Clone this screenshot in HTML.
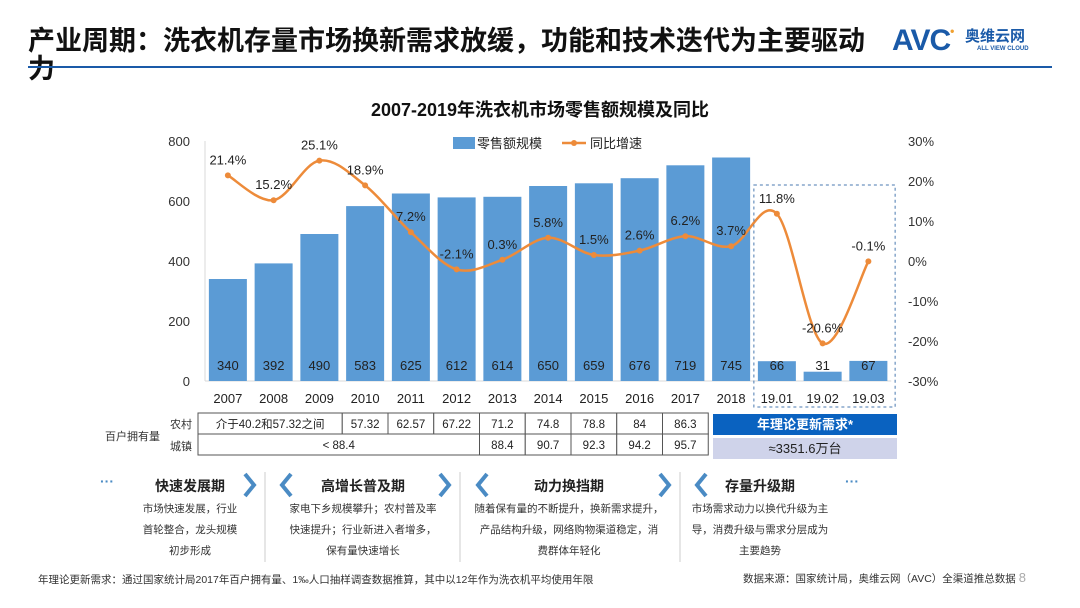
<!DOCTYPE html>
<html><head><meta charset="utf-8">
<style>
body{margin:0;width:1080px;height:608px;background:#fff;overflow:hidden;font-family:"Liberation Sans","Noto Sans CJK SC",sans-serif;position:relative}
.a{position:absolute}
.t{font-size:13px;color:#333}
.ph{position:absolute;text-align:center;font-size:10.5px;color:#333;line-height:21px}
.ph b{display:block;font-size:14px;color:#222;margin-bottom:2px}
</style></head><body>
<div class="a" style="left:28px;top:27px;font-size:27px;font-weight:bold;line-height:28px;color:#111;width:845px">产业周期：洗衣机存量市场换新需求放缓，功能和技术迭代为主要驱动力</div>
<div class="a" style="left:892px;top:24px;font-size:30px;font-weight:bold;color:#1a5aa8;letter-spacing:-1px">AVC<span style="color:#f0a030;font-size:12px;vertical-align:top">•</span></div>
<div class="a" style="left:965px;top:25px;font-size:15px;font-weight:bold;color:#1a5aa8">奥维云网</div>
<div class="a" style="left:977px;top:46px;font-size:6px;font-weight:bold;color:#1a5aa8">ALL VIEW CLOUD</div>
<div class="a" style="left:28px;top:66px;width:1024px;height:2px;background:#1a5aa8"></div>
<div class="a" style="left:0;width:1080px;top:96px;text-align:center;font-size:18px;font-weight:bold;color:#111">2007-2019年洗衣机市场零售额规模及同比</div>

<svg class="a" style="left:0;top:0" width="1080" height="608" id="chart"></svg>

<div class="a t" style="left:105px;top:428px;font-size:11px">百户拥有量</div>
<div class="a t" style="left:170px;top:416px;font-size:11px">农村</div>
<div class="a t" style="left:170px;top:438px;font-size:11px">城镇</div>
<div class="a" style="left:713px;top:414px;width:184px;height:21px;background:#0a62c0;color:#fff;font-size:13px;font-weight:bold;text-align:center;line-height:21px">年理论更新需求*</div>
<div class="a" style="left:713px;top:438px;width:184px;height:21px;background:#cfd3ea;color:#222;font-size:13px;text-align:center;line-height:21px">≈3351.6万台</div>

<div class="a" style="left:100px;top:473px;color:#4a8bc4;font-size:14px;font-weight:bold">···</div>
<div class="a" style="left:845px;top:473px;color:#4a8bc4;font-size:14px;font-weight:bold">···</div>
<div class="ph" style="left:130px;top:476px;width:120px"><b>快速发展期</b>市场快速发展，行业<br>首轮整合，龙头规模<br>初步形成</div>
<div class="ph" style="left:268px;top:476px;width:190px"><b>高增长普及期</b>家电下乡规模攀升；农村普及率<br>快速提升；行业新进入者增多，<br>保有量快速增长</div>
<div class="ph" style="left:460px;top:476px;width:218px"><b>动力换挡期</b>随着保有量的不断提升，换新需求提升，<br>产品结构升级，网络购物渠道稳定，消<br>费群体年轻化</div>
<div class="ph" style="left:680px;top:476px;width:160px"><b>存量升级期</b>市场需求动力以换代升级为主<br>导，消费升级与需求分层成为<br>主要趋势</div>
<div class="a" style="left:38px;top:572px;font-size:10.5px;color:#333">年理论更新需求：通过国家统计局2017年百户拥有量、1‰人口抽样调查数据推算，其中以12年作为洗衣机平均使用年限</div>
<div class="a" style="left:743px;top:570px;font-size:10.5px;color:#333">数据来源：国家统计局，奥维云网（AVC）全渠道推总数据 <span style="color:#aaa;font-size:13px">8</span></div>

<script>
const categories=["2007","2008","2009","2010","2011","2012","2013","2014","2015","2016","2017","2018","19.01","19.02","19.03"];
const salesValues=[340,392,490,583,625,612,614,650,659,676,719,745,66,31,67];
const growthValues=[21.4,15.2,25.1,18.9,7.2,-2.1,0.3,5.8,1.5,2.6,6.2,3.7,11.8,-20.6,-0.1];
const leftTicks=[0,200,400,600,800];
const rightTicks=[30,20,10,0,-10,-20,-30];
const ruralCells=[["介于40.2和57.32之间",4],["57.32",1],["62.57",1],["67.22",1],["71.2",1],["74.8",1],["78.8",1],["84",1],["86.3",1]];
const urbanCells=[["< 88.4",7],["88.4",1],["90.7",1],["92.3",1],["94.2",1],["95.7",1]];

const svg=document.getElementById('chart');const NS='http://www.w3.org/2000/svg';
function mk(tag,attrs,name,text){const e=document.createElementNS(NS,tag);for(const k in attrs)e.setAttribute(k,attrs[k]);


if(text!==undefined)e.textContent=text;svg.appendChild(e);return e;}
const x0=205,step=45.75;
const xc=i=>x0+step*(i+0.5);
const yL=v=>381-v*0.3;
const yR=v=>261-v*4;
const font='"Liberation Sans","Noto Sans CJK SC",sans-serif';
mk('line',{x1:x0,y1:141,x2:x0,y2:381,stroke:'#d9d9d9'},'y-axis-line');
mk('line',{x1:x0,y1:381,x2:x0+step*15,y2:381,stroke:'#d9d9d9'},'x-axis-line');
leftTicks.forEach(v=>mk('text',{x:190,y:yL(v)+5,'text-anchor':'end','font-size':13,fill:'#333','font-family':font},'left-tick-label',String(v)));
rightTicks.forEach(v=>mk('text',{x:908,y:yR(v)+5,'font-size':13,fill:'#333','font-family':font},'right-tick-label',v+'%'));
categories.forEach((c,i)=>{
 mk('rect',{x:xc(i)-19,y:yL(salesValues[i]),width:38,height:yL(0)-yL(salesValues[i]),fill:'#5b9bd5'},'bar-'+c);
 mk('text',{x:xc(i),y:370,'text-anchor':'middle','font-size':13,fill:'#222','font-family':font},'bar-value-label',String(salesValues[i]));
 mk('text',{x:xc(i),y:403,'text-anchor':'middle','font-size':13,fill:'#222','font-family':font},'x-tick-label',c);
});
const pts=growthValues.map((v,i)=>[xc(i),yR(v)]);
let d='M'+pts[0][0]+','+pts[0][1];
for(let i=0;i<pts.length-1;i++){const p0=pts[Math.max(i-1,0)],p1=pts[i],p2=pts[i+1],p3=pts[Math.min(i+2,pts.length-1)];
 d+=` C${p1[0]+(p2[0]-p0[0])/6},${p1[1]+(p2[1]-p0[1])/6} ${p2[0]-(p3[0]-p1[0])/6},${p2[1]-(p3[1]-p1[1])/6} ${p2[0]},${p2[1]}`;}
mk('path',{d:d,fill:'none',stroke:'#ed8b3a','stroke-width':2.5},'growth-line');
pts.forEach((p,i)=>{mk('circle',{cx:p[0],cy:p[1],r:3,fill:'#ed8b3a'},'growth-point');
 mk('text',{x:p[0],y:p[1]-11,'text-anchor':'middle','font-size':13,fill:'#222','font-family':font},'growth-label',growthValues[i]+'%');});
mk('rect',{x:xc(12)-23,y:185,width:step*3+4,height:222,fill:'none',stroke:'#4a7ab0','stroke-dasharray':'3,3'},'2019-highlight-box');
mk('rect',{x:453,y:137,width:22,height:12,fill:'#5b9bd5'},'legend-bar-swatch');
mk('text',{x:477,y:148,'font-size':13,fill:'#222','font-family':font},'legend-bar-label','零售额规模');
mk('line',{x1:562,y1:143,x2:586,y2:143,stroke:'#ed8b3a','stroke-width':2.5},'legend-line-swatch');
mk('circle',{cx:574,cy:143,r:3,fill:'#ed8b3a'},'legend-line-dot');
mk('text',{x:590,y:148,'font-size':13,fill:'#222','font-family':font},'legend-line-label','同比增速');
function row(cells,y,h,name){let cx=198;cells.forEach((c,k)=>{const w=c[1]===4?(xc(3)-step/2-198):c[1]===7?(xc(6)-step/2-198):step;
 mk('rect',{x:cx,y:y,width:w,height:h,fill:'#fff',stroke:'#555','stroke-width':1},name+'-cell');
 mk('text',{x:cx+w/2,y:y+15,'text-anchor':'middle','font-size':11.5,fill:'#222','font-family':font},name+'-value',c[0]);cx+=w;});}
row(ruralCells,413,21,'rural');row(urbanCells,434,21,'urban');
[265,460,680].forEach(x=>mk('line',{x1:x,y1:472,x2:x,y2:562,stroke:'#ccc'},'phase-divider'));
[[245,'r'],[282,'l'],[440,'r'],[478,'l'],[660,'r'],[697,'l']].forEach(a=>{const x=a[0];const dd=a[1]==='r'?`M${x},474 L${x+9},485 L${x},496`:`M${x+9},474 L${x},485 L${x+9},496`;
 mk('path',{d:dd,fill:'none',stroke:'#4a8bc4','stroke-width':4},'phase-arrow');});
</script>
</body></html>
